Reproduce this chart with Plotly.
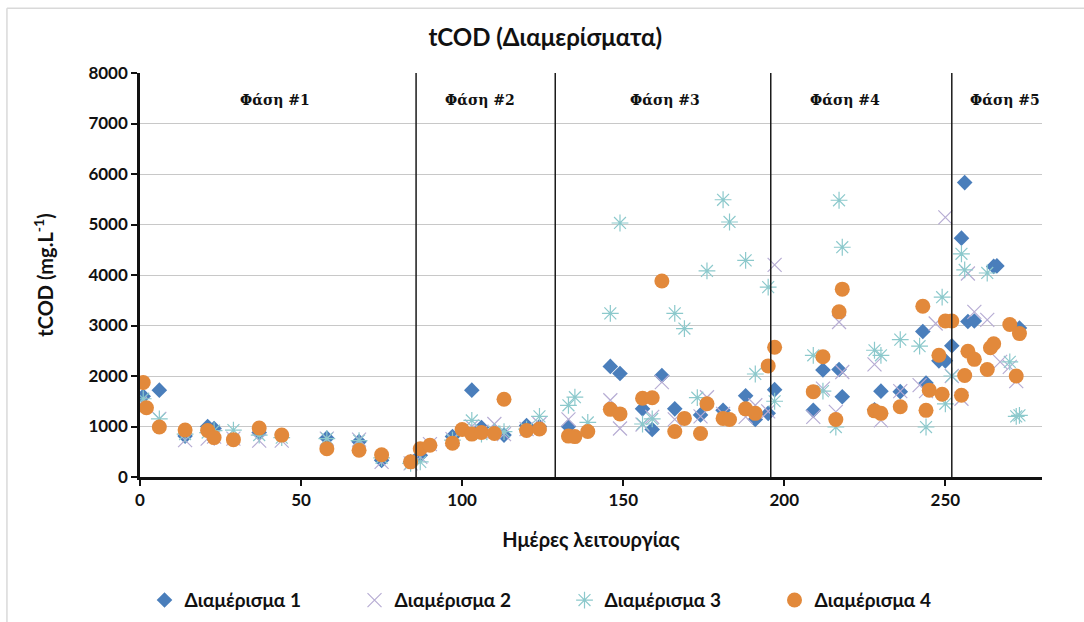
import plotly.graph_objects as go

# ---------------- data ----------------
d1_days = [1, 6, 14, 21, 23, 37, 58, 68, 75, 84,
           87, 97, 103, 106, 110, 113, 120, 124, 133, 146,
           149, 156, 159, 162, 166, 174, 181, 188, 191, 195,
           197, 209, 212, 217, 218, 228, 230, 236, 243, 244,
           248, 250, 252, 255, 256, 257, 259, 265, 266, 273]
d1_vals = [1600, 1720, 810, 1000, 960, 880, 770, 700, 330, 300,
           430, 800, 1720, 980, 910, 830, 1020, 1000, 1000, 2190,
           2050, 1350, 940, 2010, 1350, 1230, 1320, 1610, 1140, 1260,
           1730, 1320, 2120, 2130, 1590, 1330, 1700, 1690, 2880, 1860,
           2300, 2300, 2600, 4730, 5830, 3080, 3090, 4170, 4180, 2950]

d2_days = [0, 6, 14, 21, 23, 29, 37, 44, 58, 68,
           75, 84, 87, 90, 97, 103, 106, 110, 113, 120,
           124, 133, 146, 149, 156, 159, 162, 166, 174, 176,
           181, 188, 191, 195, 197, 209, 212, 216, 217, 218,
           228, 230, 236, 242, 244, 247, 250, 252, 255, 257,
           259, 263, 267, 270, 272]
d2_vals = [1450, 1150, 730, 760, 800, 760, 720, 720, 760, 740,
           300, 270, 400, 650, 750, 1000, 900, 1050, 850, 950,
           1050, 1140, 1520, 960, 1040, 1190, 1880, 1140, 1200, 1580,
           1250, 1190, 1420, 1300, 4200, 1190, 1750, 1290, 3070, 2080,
           2230, 1120, 1700, 1820, 1700, 3040, 5140, 2000, 1550, 4030,
           3270, 3110, 2280, 2180, 1900]

d3_days = [1, 6, 14, 21, 23, 29, 37, 44, 58, 68,
           75, 84, 87, 97, 103, 106, 110, 113, 120, 124,
           133, 135, 139, 146, 149, 156, 159, 166, 169, 173,
           176, 181, 183, 188, 191, 195, 197, 209, 212, 216,
           217, 218, 228, 230, 236, 242, 244, 249, 250, 252,
           255, 256, 263, 270, 272, 273]
d3_vals = [1550, 1150, 850, 880, 920, 930, 830, 780, 760, 720,
           380, 270, 300, 730, 1120, 850, 900, 900, 950, 1200,
           1420, 1580, 1080, 3240, 5030, 1050, 1150, 3240, 2940, 1570,
           4080, 5490, 5050, 4290, 2040, 3760, 1500, 2410, 1700, 990,
           5480, 4550, 2510, 2410, 2720, 2590, 990, 3560, 1450, 2000,
           4420, 4100, 4040, 2280, 1200, 1220]

d4_days = [1, 2, 6, 14, 21, 23, 29, 37, 44, 58,
           68, 75, 84, 87, 90, 97, 100, 103, 106, 110,
           113, 120, 124, 133, 135, 139, 146, 149, 156, 159,
           162, 166, 169, 174, 176, 181, 183, 188, 191, 195,
           197, 209, 212, 216, 217, 218, 228, 230, 236, 243,
           244, 245, 248, 249, 250, 252, 255, 256, 257, 259,
           263, 264, 265, 270, 272, 273]
d4_vals = [1870, 1370, 990, 930, 920, 780, 740, 970, 830, 560,
           530, 440, 300, 560, 630, 670, 940, 850, 880, 860,
           1540, 920, 950, 810, 800, 900, 1340, 1250, 1560, 1570,
           3880, 900, 1160, 860, 1450, 1160, 1140, 1350, 1260, 2200,
           2570, 1690, 2380, 1140, 3270, 3720, 1310, 1260, 1390, 3380,
           1320, 1720, 2410, 1640, 3090, 3090, 1620, 2010, 2490, 2330,
           2130, 2560, 2640, 3020, 2000, 2840]

series_names = ["Διαμέρισμα 1", "Διαμέρισμα 2", "Διαμέρισμα 3", "Διαμέρισμα 4"]

phase_bounds = [85.7, 128.9, 195.8, 252.0]
phase_labels = ["Φάση #1", "Φάση #2", "Φάση #3", "Φάση #4", "Φάση #5"]
phase_label_x = [42, 105.5, 163, 219, 268.5]
phase_label_y = 7470

x_ticks = [0, 50, 100, 150, 200, 250]
y_ticks = [0, 1000, 2000, 3000, 4000, 5000, 6000, 7000, 8000]

FONT = "Lato"

fig = go.Figure()

fig.add_trace(go.Scatter(
    x=d1_days, y=d1_vals, mode="markers", name=series_names[0],
    marker=dict(symbol="diamond", size=12, color="#4A7EBB")))
fig.add_trace(go.Scatter(
    x=d2_days, y=d2_vals, mode="markers", name=series_names[1],
    marker=dict(symbol="x-thin-open", size=14, color="#B7ADD4",
                line=dict(width=1.2, color="#B7ADD4"))))
fig.add_trace(go.Scatter(
    x=d3_days, y=d3_vals, mode="markers", name=series_names[2],
    marker=dict(symbol="asterisk-open", size=14, color="#8CC9CC",
                line=dict(width=1.2, color="#8CC9CC"))))
fig.add_trace(go.Scatter(
    x=d4_days, y=d4_vals, mode="markers", name=series_names[3],
    marker=dict(symbol="circle", size=15, color="#E2893B")))

shapes = []
for b in phase_bounds:
    shapes.append(dict(type="line", xref="x", yref="y", x0=b, x1=b, y0=0, y1=8000,
                       line=dict(color="#1a1a1a", width=1.5), layer="above"))
# chart-area border (left and top edges visible)
shapes.append(dict(type="line", xref="paper", yref="paper",
                   x0=(7 - 140) / 901.6, x1=(7 - 140) / 901.6,
                   y0=(476.7 - 622) / 404, y1=(476.7 - 8) / 404,
                   line=dict(color="#D9D9D9", width=1.5)))
shapes.append(dict(type="line", xref="paper", yref="paper",
                   x0=(7 - 140) / 901.6, x1=(1084 - 140) / 901.6,
                   y0=(476.7 - 8) / 404, y1=(476.7 - 8) / 404,
                   line=dict(color="#D9D9D9", width=1.5)))

annotations = []
for lbl, lx in zip(phase_labels, phase_label_x):
    annotations.append(dict(x=lx, y=phase_label_y, xref="x", yref="y", text="<b>" + lbl + "</b>",
                            showarrow=False, font=dict(family="DejaVu Serif", size=14, color="#111")))

fig.update_layout(
    width=1084, height=622,
    paper_bgcolor="white", plot_bgcolor="white",
    margin=dict(l=140, r=42, t=73, b=145, autoexpand=False),
    title=dict(text="<b>tCOD (Διαμερίσματα)</b>", x=0.503, xanchor="center", y=0.94, yanchor="middle",
               font=dict(family=FONT, size=24, color="#111")),
    font=dict(family=FONT, color="#111"),
    showlegend=True,
    legend=dict(orientation="h", x=0.005, xanchor="left", y=-0.305, yanchor="middle",
                font=dict(family=FONT, size=19, color="#111", weight="bold"),
                itemwidth=30, tracegroupgap=0, entrywidthmode="pixels", entrywidth=165),
    shapes=shapes, annotations=annotations,
)

fig.update_xaxes(range=[0, 280], tickvals=x_ticks, ticktext=[str(v) for v in x_ticks],
                 showgrid=False, zeroline=False, showline=True, linecolor="#111", linewidth=2.5,
                 ticks="outside", ticklen=6, tickwidth=2, tickcolor="#111",
                 tickfont=dict(family=FONT, size=17, color="#111", weight="bold"),
                 title=dict(text="<b>Ημέρες λειτουργίας</b>", standoff=24,
                            font=dict(family=FONT, size=20, color="#111")))
fig.update_yaxes(range=[0, 8000], tickvals=y_ticks, ticktext=[str(v) for v in y_ticks],
                 showgrid=True, gridcolor="#C8C8C8", gridwidth=1, zeroline=False,
                 showline=True, linecolor="#111", linewidth=2.5,
                 ticks="outside", ticklen=6, tickwidth=2, tickcolor="#111",
                 tickfont=dict(family=FONT, size=17, color="#111", weight="bold"),
                 title=dict(text="<b>tCOD (mg.L<sup>-1</sup>)</b>", standoff=30,
                            font=dict(family=FONT, size=20, color="#111")))

fig.write_html("out.html")
